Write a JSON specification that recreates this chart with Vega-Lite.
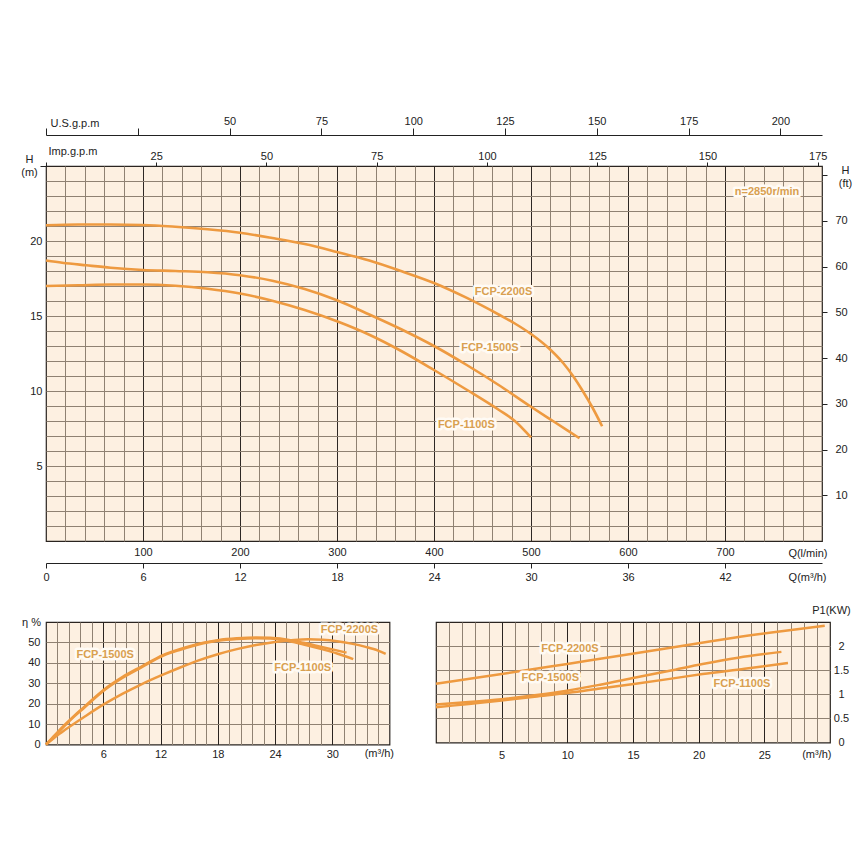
{
"$schema": "https://vega.github.io/schema/vega-lite/v6.json",
"background": "white",
"padding": {"left": 20, "top": 114, "right": 5, "bottom": 5},
"config": {
 "view": {"fill": "#FDF0E1", "stroke": "#2a2420", "strokeWidth": 1.2},
 "axis": {"labelFont": "Liberation Sans", "titleFont": "Liberation Sans", "labelFontSize": 11, "titleFontSize": 11, "labelColor": "#222", "titleColor": "#222", "titleFontWeight": "normal", "domainColor": "#222", "tickColor": "#222", "labelFlush": false, "labelOverlap": false, "labelBound": false, "gridWidth": 1}
},
"datasets": {
 "head": [
  {"model":"FCP-2200S","q":0,"v":21.05},{"model":"FCP-2200S","q":2,"v":21.1},{"model":"FCP-2200S","q":4,"v":21.1},{"model":"FCP-2200S","q":6,"v":21.07},{"model":"FCP-2200S","q":8,"v":20.95},{"model":"FCP-2200S","q":10,"v":20.78},{"model":"FCP-2200S","q":12,"v":20.55},{"model":"FCP-2200S","q":14,"v":20.2},{"model":"FCP-2200S","q":16,"v":19.8},{"model":"FCP-2200S","q":18,"v":19.27},{"model":"FCP-2200S","q":20,"v":18.7},{"model":"FCP-2200S","q":22,"v":17.98},{"model":"FCP-2200S","q":24,"v":17.2},{"model":"FCP-2200S","q":26,"v":16.22},{"model":"FCP-2200S","q":28,"v":15.1},{"model":"FCP-2200S","q":29,"v":14.5},{"model":"FCP-2200S","q":30,"v":13.8},{"model":"FCP-2200S","q":31,"v":12.95},{"model":"FCP-2200S","q":32,"v":11.85},{"model":"FCP-2200S","q":32.6,"v":11.0},{"model":"FCP-2200S","q":33.2,"v":10.0},{"model":"FCP-2200S","q":33.8,"v":8.9},{"model":"FCP-2200S","q":34.4,"v":7.65},
  {"model":"FCP-1500S","q":0,"v":18.7},{"model":"FCP-1500S","q":1,"v":18.55},{"model":"FCP-1500S","q":2.5,"v":18.38},{"model":"FCP-1500S","q":4,"v":18.22},{"model":"FCP-1500S","q":6,"v":18.07},{"model":"FCP-1500S","q":8,"v":18.0},{"model":"FCP-1500S","q":10,"v":17.92},{"model":"FCP-1500S","q":12,"v":17.72},{"model":"FCP-1500S","q":14,"v":17.35},{"model":"FCP-1500S","q":16,"v":16.8},{"model":"FCP-1500S","q":18,"v":16.05},{"model":"FCP-1500S","q":20,"v":15.1},{"model":"FCP-1500S","q":22,"v":14.1},{"model":"FCP-1500S","q":24,"v":13.0},{"model":"FCP-1500S","q":26,"v":11.75},{"model":"FCP-1500S","q":28,"v":10.4},{"model":"FCP-1500S","q":30,"v":8.95},{"model":"FCP-1500S","q":31.5,"v":7.9},{"model":"FCP-1500S","q":33,"v":6.85},
  {"model":"FCP-1100S","q":0,"v":17.0},{"model":"FCP-1100S","q":2,"v":17.05},{"model":"FCP-1100S","q":4,"v":17.1},{"model":"FCP-1100S","q":6,"v":17.1},{"model":"FCP-1100S","q":8,"v":17.02},{"model":"FCP-1100S","q":10,"v":16.82},{"model":"FCP-1100S","q":12,"v":16.5},{"model":"FCP-1100S","q":14,"v":16.02},{"model":"FCP-1100S","q":16,"v":15.4},{"model":"FCP-1100S","q":18,"v":14.65},{"model":"FCP-1100S","q":20,"v":13.75},{"model":"FCP-1100S","q":22,"v":12.65},{"model":"FCP-1100S","q":24,"v":11.4},{"model":"FCP-1100S","q":26,"v":10.1},{"model":"FCP-1100S","q":28,"v":8.75},{"model":"FCP-1100S","q":29,"v":8.0},{"model":"FCP-1100S","q":30,"v":6.9}
 ],
 "headLabels": [
  {"q":28.3,"v":16.6,"t":"FCP-2200S"},{"q":27.46,"v":12.9,"t":"FCP-1500S"},{"q":26.0,"v":7.73,"t":"FCP-1100S"},{"q":44.6,"v":23.3,"t":"n=2850r/min"}
 ],
 "eff": [
  {"model":"FCP-2200S","q":0,"v":0},{"model":"FCP-2200S","q":1,"v":3.8},{"model":"FCP-2200S","q":2,"v":7.2},{"model":"FCP-2200S","q":4,"v":13.5},{"model":"FCP-2200S","q":6,"v":19.5},{"model":"FCP-2200S","q":8,"v":24.8},{"model":"FCP-2200S","q":10,"v":29.5},{"model":"FCP-2200S","q":12,"v":33.7},{"model":"FCP-2200S","q":14,"v":37.6},{"model":"FCP-2200S","q":16,"v":41.2},{"model":"FCP-2200S","q":18,"v":44.2},{"model":"FCP-2200S","q":20,"v":46.7},{"model":"FCP-2200S","q":22,"v":48.7},{"model":"FCP-2200S","q":24,"v":50.2},{"model":"FCP-2200S","q":26,"v":51.2},{"model":"FCP-2200S","q":27.5,"v":51.5},{"model":"FCP-2200S","q":29,"v":51.3},{"model":"FCP-2200S","q":30.5,"v":50.6},{"model":"FCP-2200S","q":32,"v":49.4},{"model":"FCP-2200S","q":33.5,"v":47.8},{"model":"FCP-2200S","q":34.8,"v":46.0},{"model":"FCP-2200S","q":35.6,"v":44.4},
  {"model":"FCP-1500S","q":0,"v":0},{"model":"FCP-1500S","q":1,"v":5},{"model":"FCP-1500S","q":2,"v":9.8},{"model":"FCP-1500S","q":3,"v":14.3},{"model":"FCP-1500S","q":4,"v":18.4},{"model":"FCP-1500S","q":6,"v":26.6},{"model":"FCP-1500S","q":8,"v":33},{"model":"FCP-1500S","q":10,"v":38.2},{"model":"FCP-1500S","q":12.25,"v":43.8},{"model":"FCP-1500S","q":14,"v":46.7},{"model":"FCP-1500S","q":16.5,"v":49.9},{"model":"FCP-1500S","q":18,"v":51.1},{"model":"FCP-1500S","q":20,"v":52},{"model":"FCP-1500S","q":22,"v":52.4},{"model":"FCP-1500S","q":23.5,"v":52.3},{"model":"FCP-1500S","q":25,"v":51.6},{"model":"FCP-1500S","q":27,"v":49.8},{"model":"FCP-1500S","q":29,"v":47.6},{"model":"FCP-1500S","q":31.5,"v":45},
  {"model":"FCP-1100S","q":0,"v":0},{"model":"FCP-1100S","q":1,"v":4.6},{"model":"FCP-1100S","q":2,"v":9.4},{"model":"FCP-1100S","q":3,"v":13.9},{"model":"FCP-1100S","q":4,"v":18},{"model":"FCP-1100S","q":6,"v":26.2},{"model":"FCP-1100S","q":8,"v":32.6},{"model":"FCP-1100S","q":10,"v":37.8},{"model":"FCP-1100S","q":12.25,"v":43.4},{"model":"FCP-1100S","q":14,"v":46.3},{"model":"FCP-1100S","q":16.5,"v":49.6},{"model":"FCP-1100S","q":18,"v":50.8},{"model":"FCP-1100S","q":20,"v":51.7},{"model":"FCP-1100S","q":22,"v":52.1},{"model":"FCP-1100S","q":23.5,"v":51.9},{"model":"FCP-1100S","q":25,"v":51.1},{"model":"FCP-1100S","q":27,"v":49},{"model":"FCP-1100S","q":29,"v":46.6},{"model":"FCP-1100S","q":30.5,"v":44.6},{"model":"FCP-1100S","q":32.2,"v":41.8}
 ],
 "effLabels": [
  {"q":6.2,"v":44.0,"t":"FCP-1500S"},{"q":26.9,"v":37.7,"t":"FCP-1100S"},{"q":31.8,"v":56.3,"t":"FCP-2200S"}
 ],
 "power": [
  {"model":"FCP-2200S","q":0,"v":1.22},{"model":"FCP-2200S","q":5,"v":1.42},{"model":"FCP-2200S","q":10,"v":1.63},{"model":"FCP-2200S","q":15.2,"v":1.85},{"model":"FCP-2200S","q":20,"v":2.06},{"model":"FCP-2200S","q":22.8,"v":2.18},{"model":"FCP-2200S","q":26,"v":2.3},{"model":"FCP-2200S","q":29.6,"v":2.42},
  {"model":"FCP-1500S","q":0,"v":0.79},{"model":"FCP-1500S","q":2.5,"v":0.84},{"model":"FCP-1500S","q":5,"v":0.9},{"model":"FCP-1500S","q":7.5,"v":0.98},{"model":"FCP-1500S","q":10.1,"v":1.08},{"model":"FCP-1500S","q":12.5,"v":1.2},{"model":"FCP-1500S","q":15.2,"v":1.35},{"model":"FCP-1500S","q":17.8,"v":1.49},{"model":"FCP-1500S","q":20.3,"v":1.63},{"model":"FCP-1500S","q":23,"v":1.76},{"model":"FCP-1500S","q":26.3,"v":1.88},
  {"model":"FCP-1100S","q":0,"v":0.73},{"model":"FCP-1100S","q":2.5,"v":0.8},{"model":"FCP-1100S","q":5,"v":0.87},{"model":"FCP-1100S","q":7.5,"v":0.95},{"model":"FCP-1100S","q":10.1,"v":1.03},{"model":"FCP-1100S","q":12.5,"v":1.12},{"model":"FCP-1100S","q":15.2,"v":1.22},{"model":"FCP-1100S","q":17.8,"v":1.32},{"model":"FCP-1100S","q":20.3,"v":1.42},{"model":"FCP-1100S","q":23.5,"v":1.53},{"model":"FCP-1100S","q":26.8,"v":1.65}
 ],
 "powerLabels": [
  {"q":10.2,"v":1.95,"t":"FCP-2200S"},{"q":8.7,"v":1.33,"t":"FCP-1500S"},{"q":23.3,"v":1.21,"t":"FCP-1100S"}
 ]
},
"bounds": "flush",
"spacing": 81,
"vconcat": [
 {
  "width": 776,
  "height": 375,
  "resolve": {"axis": {"x": "independent", "y": "independent"}},
  "layer": [
   {
    "data": {"name": "head"},
    "mark": {"type": "line", "opacity": 0},
    "encoding": {
     "x": {"field": "q", "type": "quantitative", "scale": {"domain": [0, 48], "nice": false, "zero": false},
      "axis": {"orient": "bottom", "offset": 0, "values": [1.2,2.4,3.6,4.8,6,7.2,8.4,9.6,10.8,12,13.2,14.4,15.6,16.8,18,19.2,20.4,21.6,22.8,24,25.2,26.4,27.6,28.8,30,31.2,32.4,33.6,34.8,36,37.2,38.4,39.6,40.8,42,43.2,44.4,45.6,46.8],
       "grid": true, "gridColor": {"condition": {"test": "abs(datum.value/6 - round(datum.value/6)) < 0.001", "value": "#2e2824"}, "value": "#8f8172"},
       "ticks": false, "domain": false, "labelPadding": 5,
       "labelExpr": "abs(datum.value/6 - round(datum.value/6)) < 0.001 ? '' + round(datum.value/0.06) : ''",
       "title": "Q(l/min)", "titleAngle": 0, "titleAlign": "right", "titleAnchor": "end", "titleX": 781, "titleY": 12, "titleBaseline": "middle"}},
     "y": {"field": "v", "type": "quantitative", "scale": {"domain": [0, 25], "nice": false, "zero": false}, "axis": null},
     "detail": {"field": "model", "type": "nominal"}
    }
   },
   {
    "data": {"name": "head"},
    "mark": {"type": "line", "color": "#EE9A40", "strokeWidth": 2.6, "interpolate": "monotone"},
    "encoding": {
     "x": {"field": "q", "type": "quantitative", "scale": {"domain": [0, 48], "nice": false, "zero": false},
      "axis": {"orient": "bottom", "offset": 22, "values": [0,6,12,18,24,30,36,42], "grid": false, "tickSize": 5, "labelPadding": 3, "domainWidth": 1.2,
       "labelExpr": "'' + datum.value",
       "title": "Q(m³/h)", "titleAngle": 0, "titleAlign": "right", "titleAnchor": "end", "titleX": 780, "titleY": 14, "titleBaseline": "middle"}},
     "y": {"field": "v", "type": "quantitative", "scale": {"domain": [0, 25], "nice": false, "zero": false},
      "axis": {"orient": "left", "values": [0,1,2,3,4,5,6,7,8,9,10,11,12,13,14,15,16,17,18,19,20,21,22,23,24,25],
       "grid": true, "gridColor": {"condition": {"test": "datum.value === 0 || datum.value === 25", "value": "transparent"}, "value": "#8f8172"},
       "domain": false, "tickSize": 6, "tickColor": {"condition": {"test": "datum.value === 25", "value": "#222"}, "value": "transparent"},
       "labelPadding": -2,
       "labelExpr": "(datum.value % 5 === 0 && datum.value > 0 && datum.value < 25) ? '' + datum.value : ''",
       "title": ["H", "(m)"], "titleAngle": 0, "titleAlign": "center", "titleBaseline": "alphabetic", "titleX": -17, "titleY": -4, "titleLineHeight": 13}},
     "detail": {"field": "model", "type": "nominal"}
    }
   },
   {
    "data": {"name": "head"},
    "mark": {"type": "line", "opacity": 0},
    "encoding": {
     "x": {"field": "q", "type": "quantitative", "scale": {"domain": [0, 48], "nice": false, "zero": false},
      "axis": {"orient": "top", "offset": 0, "values": [0,6.8191,13.6383,20.4574,27.2765,34.0957,40.9148,47.734], "tickSize": 4, "labelPadding": 1, "domain": false, "grid": false,
       "labelExpr": "datum.value > 1 ? '' + round(datum.value/0.2727654) : ''",
       "title": "Imp.g.p.m", "titleAngle": 0, "titleAlign": "left", "titleAnchor": "start", "titleX": 2, "titleY": -15, "titleBaseline": "middle"}},
     "y": {"field": "v", "type": "quantitative", "scale": {"domain": [0, 25], "nice": false, "zero": false},
      "axis": {"orient": "right", "values": [3.048,6.096,9.144,12.192,15.24,18.288,21.336,24.384], "tickSize": 5, "labelPadding": 8, "domain": false, "grid": false,
       "labelExpr": "datum.value < 24 ? '' + round(datum.value/0.3048) : ''",
       "title": ["H", "(ft)"], "titleAngle": 0, "titleAlign": "center", "titleBaseline": "alphabetic", "titleX": 23, "titleY": 7, "titleLineHeight": 13}},
     "detail": {"field": "model", "type": "nominal"}
    }
   },
   {
    "data": {"name": "head"},
    "mark": {"type": "line", "opacity": 0},
    "encoding": {
     "x": {"field": "q", "type": "quantitative", "scale": {"domain": [0, 48], "nice": false, "zero": false},
      "axis": {"orient": "top", "offset": 31, "values": [0,5.6781,11.3562,17.0343,22.7125,28.3906,34.0687,39.7468,45.4249], "tickSize": 7, "labelPadding": 2, "domain": true, "domainWidth": 1.2, "grid": false,
       "labelExpr": "datum.value > 10 ? '' + round(datum.value/0.2271247) : ''",
       "title": "U.S.g.p.m", "titleAngle": 0, "titleAlign": "left", "titleAnchor": "start", "titleX": 4, "titleY": -12, "titleBaseline": "middle"}},
     "y": {"field": "v", "type": "quantitative", "scale": {"domain": [0, 25], "nice": false, "zero": false}, "axis": null},
     "detail": {"field": "model", "type": "nominal"}
    }
   },
   {
    "data": {"name": "headLabels"},
    "mark": {"type": "text", "font": "Liberation Sans", "fontWeight": "bold", "fontSize": 11, "stroke": "#FFFBF5", "strokeWidth": 5, "strokeJoin": "round", "fill": "#FFFBF5"},
    "encoding": {
     "x": {"field": "q", "type": "quantitative", "scale": {"domain": [0, 48], "nice": false, "zero": false}, "axis": null},
     "y": {"field": "v", "type": "quantitative", "scale": {"domain": [0, 25], "nice": false, "zero": false}, "axis": null},
     "text": {"field": "t"}
    }
   },
   {
    "data": {"name": "headLabels"},
    "mark": {"type": "text", "font": "Liberation Sans", "fontWeight": "bold", "fontSize": 11, "fill": "#D9A050"},
    "encoding": {
     "x": {"field": "q", "type": "quantitative", "scale": {"domain": [0, 48], "nice": false, "zero": false}, "axis": null},
     "y": {"field": "v", "type": "quantitative", "scale": {"domain": [0, 25], "nice": false, "zero": false}, "axis": null},
     "text": {"field": "t"}
    }
   }
  ]
 },
 {
  "bounds": "flush",
  "spacing": 46,
  "hconcat": [
   {
    "width": 343.5,
    "height": 122.5,
    "encoding": {
     "x": {"field": "q", "type": "quantitative", "scale": {"domain": [0, 36], "nice": false},
      "axis": {"values": [1.2,2.4,3.6,4.8,6,7.2,8.4,9.6,10.8,12,13.2,14.4,15.6,16.8,18,19.2,20.4,21.6,22.8,24,25.2,26.4,27.6,28.8,30,31.2,32.4,33.6,34.8],
       "grid": true, "gridColor": {"condition": {"test": "abs(datum.value/6 - round(datum.value/6)) < 0.001", "value": "#2a2420"}, "value": "#8f8172"},
       "ticks": false, "domain": false, "labelPadding": 4,
       "labelExpr": "abs(datum.value/6 - round(datum.value/6)) < 0.001 ? '' + round(datum.value) : ''",
       "title": "(m³/h)", "titleAngle": 0, "titleAlign": "right", "titleAnchor": "end", "titleX": 347.5, "titleY": 9, "titleBaseline": "middle"}},
     "y": {"field": "v", "type": "quantitative", "scale": {"domain": [0, 60], "nice": false},
      "axis": {"values": [0,10,20,30,40,50,60],
       "grid": true, "gridColor": {"condition": {"test": "datum.value === 0 || datum.value === 60", "value": "transparent"}, "value": "#8f8172"},
       "ticks": false, "domain": false, "labelPadding": 6,
       "labelExpr": "datum.value < 60 ? '' + datum.value : ''",
       "title": "η %", "titleAngle": 0, "titleAlign": "center", "titleBaseline": "middle", "titleX": -15, "titleY": 0}}
    },
    "layer": [
     {"data": {"name": "eff"}, "mark": {"type": "line", "color": "#EE9A40", "strokeWidth": 2.5, "interpolate": "monotone"}, "encoding": {"detail": {"field": "model", "type": "nominal"}}},
     {"data": {"name": "effLabels"}, "mark": {"type": "text", "font": "Liberation Sans", "fontWeight": "bold", "fontSize": 11, "stroke": "#FFFBF5", "strokeWidth": 5, "strokeJoin": "round", "fill": "#FFFBF5"}, "encoding": {"text": {"field": "t"}}},
     {"data": {"name": "effLabels"}, "mark": {"type": "text", "font": "Liberation Sans", "fontWeight": "bold", "fontSize": 11, "fill": "#D9A050"}, "encoding": {"text": {"field": "t"}}}
    ]
   },
   {
    "width": 394,
    "height": 120.5,
    "encoding": {
     "x": {"field": "q", "type": "quantitative", "scale": {"domain": [0, 30], "nice": false},
      "axis": {"values": [1,2,3,4,5,6,7,8,9,10,11,12,13,14,15,16,17,18,19,20,21,22,23,24,25,26,27,28,29],
       "grid": true, "gridColor": {"condition": {"test": "datum.value % 5 === 0", "value": "#2a2420"}, "value": "#8f8172"},
       "ticks": false, "domain": false, "labelPadding": 7,
       "labelExpr": "datum.value % 5 === 0 ? '' + datum.value : ''",
       "title": "(m³/h)", "titleAngle": 0, "titleAlign": "right", "titleAnchor": "end", "titleX": 395, "titleY": 12, "titleBaseline": "middle"}},
     "y": {"field": "v", "type": "quantitative", "scale": {"domain": [0, 2.5], "nice": false},
      "axis": {"orient": "right", "values": [0,0.5,1,1.5,2,2.5],
       "grid": true, "gridColor": {"condition": {"test": "datum.value === 0 || datum.value === 2.5", "value": "transparent"}, "value": "#8f8172"},
       "ticks": false, "domain": false, "labelPadding": 11, "labelAlign": "center",
       "labelExpr": "datum.value < 2.5 ? '' + datum.value : ''",
       "title": "P1(KW)", "titleAngle": 0, "titleAlign": "center", "titleBaseline": "middle", "titleX": 1, "titleY": -12}}
    },
    "layer": [
     {"data": {"name": "power"}, "mark": {"type": "line", "color": "#EE9A40", "strokeWidth": 2.5, "interpolate": "monotone"}, "encoding": {"detail": {"field": "model", "type": "nominal"}}},
     {"data": {"name": "powerLabels"}, "mark": {"type": "text", "font": "Liberation Sans", "fontWeight": "bold", "fontSize": 11, "stroke": "#FFFBF5", "strokeWidth": 5, "strokeJoin": "round", "fill": "#FFFBF5"}, "encoding": {"text": {"field": "t"}}},
     {"data": {"name": "powerLabels"}, "mark": {"type": "text", "font": "Liberation Sans", "fontWeight": "bold", "fontSize": 11, "fill": "#D9A050"}, "encoding": {"text": {"field": "t"}}}
    ]
   }
  ]
 }
]
}
